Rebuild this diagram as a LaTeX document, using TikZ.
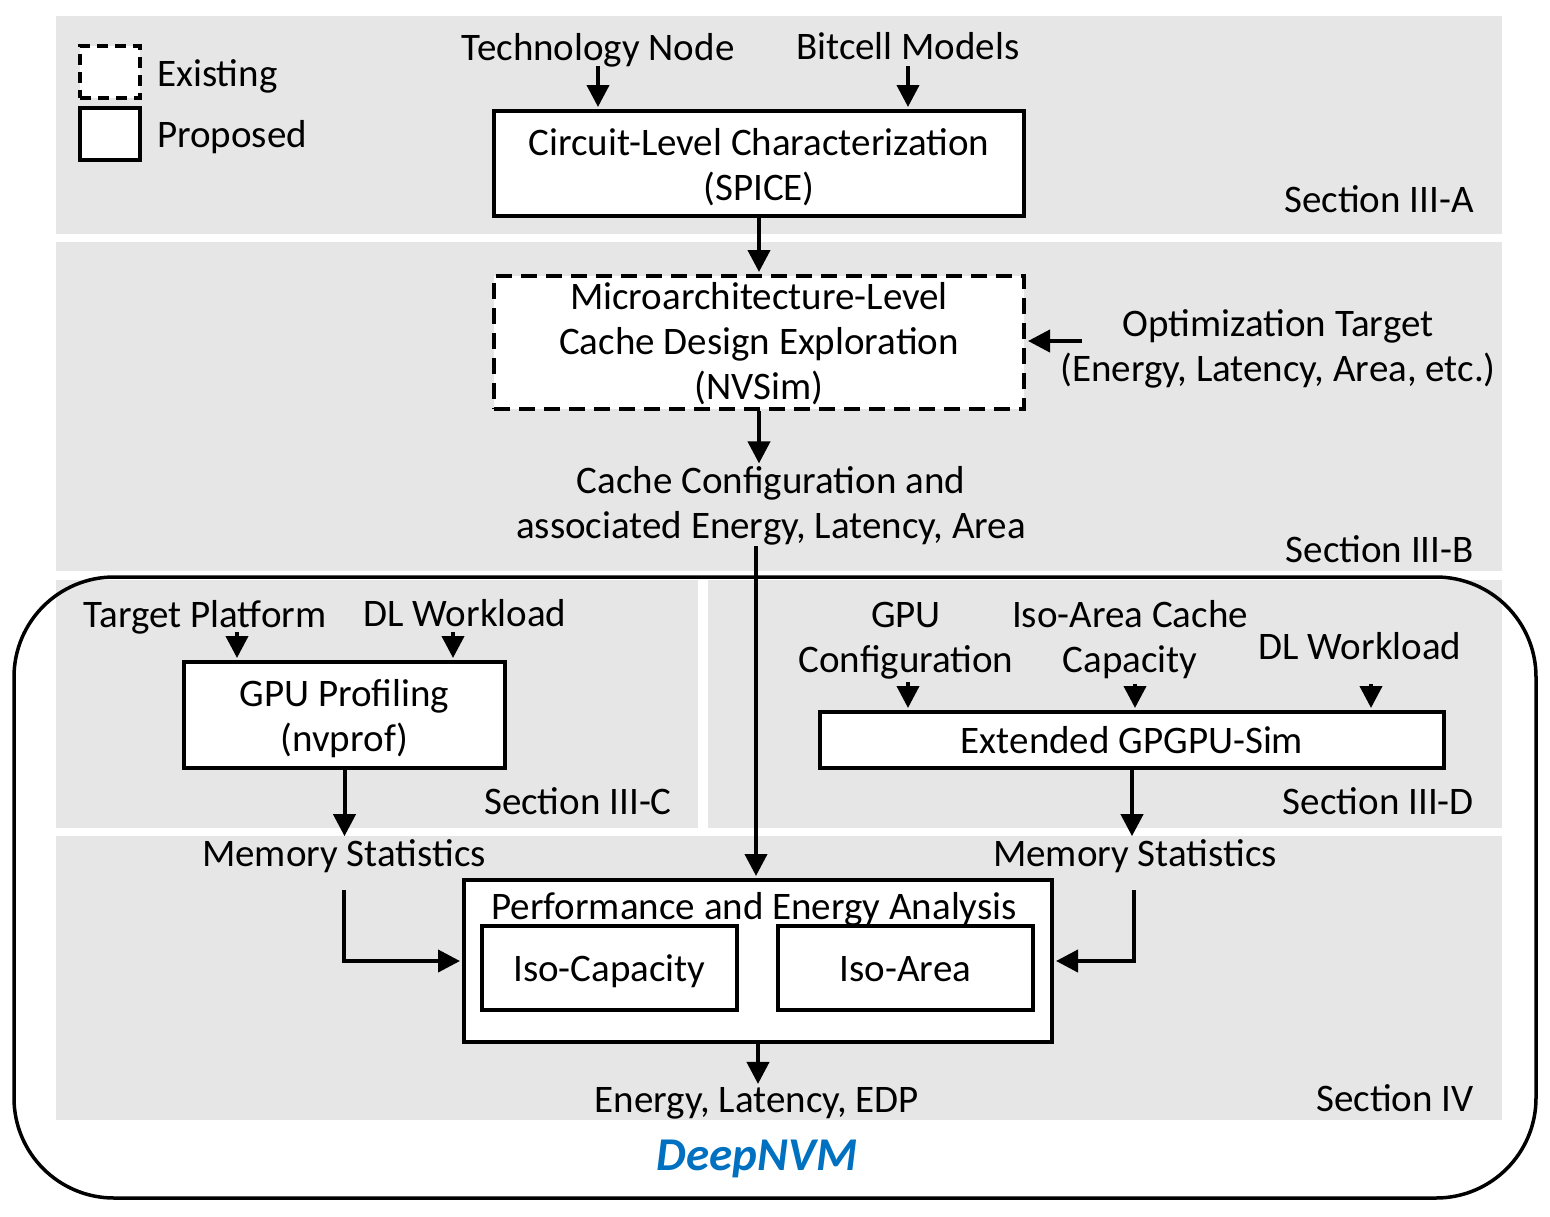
\documentclass[tikz,border=0pt]{standalone}
\usepackage{fontspec}
\setmainfont{Carlito}
\usetikzlibrary{arrows.meta}
\definecolor{bandgray}{RGB}{231,230,230}
\definecolor{nvblue}{RGB}{0,112,192}
\newcommand\mainfnt{\fontsize{39}{45}\selectfont}
\begin{document}
\begin{tikzpicture}[x=1pt,y=-1pt,
  blk/.style={draw, line width=4pt, fill=white, inner sep=0pt},
  txt/.style={inner sep=1pt, align=center, font=\mainfnt},
  sec/.style={inner sep=1pt, anchor=east, font=\mainfnt},
  arr/.style={line width=4pt, shorten >=2pt, -{Triangle[length=22pt,width=22pt]}},
]
\useasboundingbox (0,0) rectangle (1550,1216);
\fill[white] (0,0) rectangle (1550,1216);
% bands
\fill[bandgray] (56,16) rectangle (1502,234);
\fill[bandgray] (56,242) rectangle (1502,571);
\fill[bandgray] (56,580) rectangle (698,828);
\fill[bandgray] (708,580) rectangle (1502,828);
\fill[bandgray] (56,836) rectangle (1502,1120);
% DeepNVM frame
\draw[line width=3.5pt, rounded corners=100pt] (14,577) rectangle (1536,1198);

% legend
\node[blk, dash pattern=on 11pt off 7pt, minimum width=60pt, minimum height=52pt] (lgE) at (110,72) {};
\node[blk, minimum width=60pt, minimum height=52pt] (lgP) at (110,134) {};
\node[txt, anchor=west] (lgEt) at (156,76) {Existing};
\node[txt, anchor=west] (lgPt) at (156,137) {Proposed};

% Section III-A
\node[txt] (tech) at (598,50) {Technology Node};
\node[txt] (bit) at (908,46) {Bitcell Models};
\node[blk, minimum width=530pt, minimum height=105pt] (circ) at (759,163.5) {};
\node[txt] (circT) at (759,167) {Circuit-Level Characterization\\(SPICE)};
\node[sec] (secA) at (1475,199) {Section III-A};
\coordinate (techo) at (598,66);
\coordinate (bito) at (908,66);
\draw[arr] (techo) -- (techo |- circ.north);
\draw[arr] (bito) -- (bito |- circ.north);

% Section III-B
\node[blk, dash pattern=on 16pt off 9pt, minimum width=530pt, minimum height=133pt] (micro) at (759,342.5) {};
\node[txt] (microT) at (759,344) {Microarchitecture-Level\\Cache Design Exploration\\(NVSim)};
\draw[arr] (circ.south) -- (micro.north);
\node[txt] (opt) at (1278,349) {Optimization Target\\(Energy, Latency, Area, etc.)};
\coordinate (opto) at (1082,341);
\draw[arr] (opto) -- (micro.east |- opto);
\node[txt] (cfg) at (771,506) {Cache Configuration and\\associated Energy, Latency, Area};
\draw[arr] (micro.south) -- (micro.south |- cfg.north);
\node[sec] (secB) at (1475,549) {Section III-B};

% Section III-C
\node[txt] (tp) at (205,617) {Target Platform};
\node[txt] (dl1) at (465,613) {DL Workload};
\node[blk, minimum width=321pt, minimum height=106pt] (gpu) at (344.5,715) {};
\node[txt] (gpuT) at (344.5,719) {GPU Profiling\\(nvprof)};
\coordinate (tpo) at (237,632);
\coordinate (dl1o) at (453,632);
\draw[arr] (tpo) -- (tpo |- gpu.north);
\draw[arr] (dl1o) -- (dl1o |- gpu.north);
\node[sec] (secC) at (673,801) {Section III-C};
\node[txt] (ms1) at (344,856) {Memory Statistics};
\draw[arr] (gpu.south) -- (gpu.south |- ms1.north);

% Section III-D
\node[txt] (gcfg) at (906,640.5) {GPU\\Configuration};
\node[txt] (iac) at (1130,639.5) {Iso-Area Cache\\Capacity};
\node[txt] (dl2) at (1360,646) {DL Workload};
\node[blk, minimum width=624pt, minimum height=56pt] (ext) at (1132,740) {};
\node[txt] (extT) at (1132,740) {Extended GPGPU-Sim};
\coordinate (gcfgo) at (908,682);
\coordinate (iaco) at (1135,684);
\coordinate (dl2o) at (1371,684);
\draw[arr] (gcfgo) -- (gcfgo |- ext.north);
\draw[arr] (iaco) -- (iaco |- ext.north);
\draw[arr] (dl2o) -- (dl2o |- ext.north);
\node[sec] (secD) at (1475,801) {Section III-D};
\node[txt] (ms2) at (1135,856) {Memory Statistics};
\draw[arr] (ext.south) -- (ext.south |- ms2.north);

% Section IV
\node[blk, minimum width=588pt, minimum height=162pt] (perf) at (758,961) {};
\node[blk, minimum width=255pt, minimum height=84pt] (isoc) at (609.5,968) {};
\node[blk, minimum width=255pt, minimum height=84pt] (isoa) at (905.5,968) {};
\node[txt] (isocT) at (609.5,971) {Iso-Capacity};
\node[txt] (isoaT) at (905.5,969) {Iso-Area};
\node[txt] (ptitle) at (754,909) {Performance and Energy Analysis};
\coordinate (cfgo) at (756,546);
\draw[arr] (cfgo) -- (cfgo |- perf.north);
\coordinate (ms1o) at (344,890);
\coordinate (ms2o) at (1134,890);
\draw[arr] (ms1o) |- (perf.west);
\draw[arr] (ms2o) |- (perf.east);
\node[txt] (ele) at (757,1103) {Energy, Latency, EDP};
\draw[arr] (perf.south) -- (perf.south |- ele.north);
\node[sec] (secIV) at (1475,1098) {Section IV};
\node[inner sep=1pt, font=\fontsize{47}{52}\selectfont\bfseries\itshape, text=nvblue] (deep) at (757,1159) {DeepNVM};
\end{tikzpicture}
\end{document}
